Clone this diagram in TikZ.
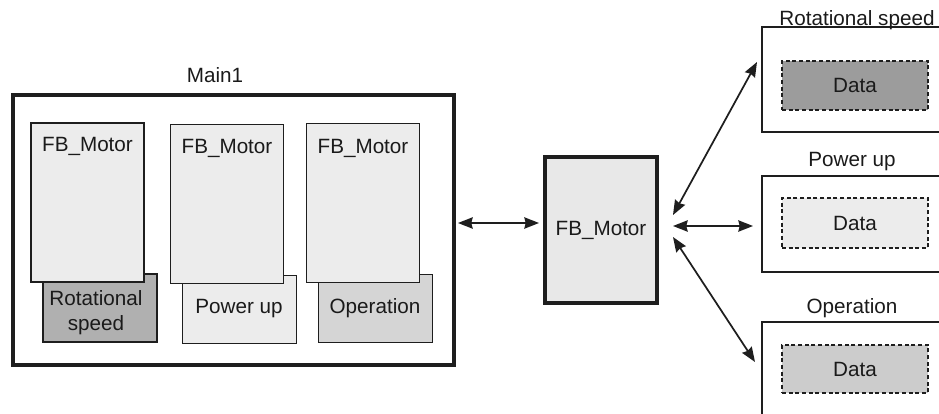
\documentclass[tikz,border=0pt]{standalone}
\usepackage{fontspec}
\setmainfont{Liberation Sans}
\usetikzlibrary{arrows.meta}
\definecolor{txt}{HTML}{1A1A1A}
\definecolor{dark}{HTML}{B0B0B0}
\definecolor{light}{HTML}{ECECEC}
\definecolor{cbox}{HTML}{E8E8E8}
\definecolor{mid}{HTML}{D5D5D5}
\definecolor{ddark}{HTML}{9C9C9C}
\definecolor{dmid}{HTML}{CCCCCC}
\definecolor{lne}{HTML}{1E1E1E}
\begin{document}
\begin{tikzpicture}[x=0.75pt,y=-0.75pt,
  every node/.style={font=\fontsize{15.5}{18.5}\selectfont, text=txt},
  mainbox/.style={draw=lne, line width=3pt, fill=white, minimum width=330.75pt, minimum height=202.5pt, inner sep=0pt},
  fbbox/.style={draw=lne, line width=1.3pt, fill=light, minimum width=84.75pt, minimum height=119.25pt, inner sep=0pt},
  subbox/.style={draw=lne, line width=1.3pt, minimum width=85.5pt, minimum height=51pt, inner sep=0pt, align=center},
  centerbox/.style={draw=lne, line width=2.8pt, fill=cbox, minimum width=84pt, minimum height=109.5pt, inner sep=0pt},
  outbox/.style={draw=lne, line width=1.1pt, fill=white, minimum width=148.5pt, inner sep=0pt},
  databox/.style={draw=lne, line width=1.1pt, dashed, dash pattern=on 3pt off 2pt, minimum width=109.5pt, inner sep=0pt},
  lbl/.style={inner sep=0pt},
  arr/.style={line width=1.3pt, draw=lne, {Stealth[length=11pt,width=8.5pt,inset=1pt]}-{Stealth[length=11pt,width=8.5pt,inset=1pt]}}
]
\clip (0,0) rectangle (939,414);
\useasboundingbox (0,0) rectangle (939,414);

% Main1
\node[mainbox] (main) at (233.5,230) {};
\node[lbl] (mainlbl) at (215,75) {Main1};

% sub boxes (behind)
\node[subbox, fill=dark] (sb1) at (100,308) {};
\node[subbox, fill=light] (sb2) at (239.5,309.5) {};
\node[subbox, fill=mid] (sb3) at (375.5,308.5) {};

% FB boxes
\node[fbbox] (fb1) at (87.5,202.5) {};
\node[fbbox] (fb2) at (227,204) {};
\node[fbbox] (fb3) at (363,203) {};
\node[lbl] (fb1t) at (87.5,146) {FB\_Motor};
\node[lbl] (fb2t) at (227,148) {FB\_Motor};
\node[lbl] (fb3t) at (363,148) {FB\_Motor};

\node[lbl, align=center] (sb1t) at (96,312.5) {Rotational\\[0.5pt]speed};
\node[lbl] (sb2t) at (239,309) {Power up};
\node[lbl] (sb3t) at (375,308) {Operation};

% center
\node[centerbox] (fb) at (601,230) {FB\_Motor};

% right boxes
\node[outbox, minimum height=78.75pt] (o1) at (861,79.5) {};
\node[outbox, minimum height=72pt] (o2) at (861,224) {};
\node[outbox, minimum height=90pt] (o3) at (861,382) {};
\node[lbl] (o1l) at (857,20) {Rotational speed};
\node[lbl] (o2l) at (852,162) {Power up};
\node[lbl] (o3l) at (852,308) {Operation};

\node[databox, fill=ddark, minimum height=36.75pt] (d1) at (855,85.5) {Data};
\node[databox, fill=light, minimum height=37.5pt] (d2) at (855,223) {Data};
\node[databox, fill=dmid, minimum height=36pt] (d3) at (855,369) {Data};

% connectors
\coordinate (a1) at (458,223);
\coordinate (a2) at (539,223);
\draw[arr] (a1) -- (a2);
\coordinate (r0) at (673,226);
\coordinate (r2) at (753,226);
\draw[arr] (r0) -- (r2);
\coordinate (u0) at (673,215);
\coordinate (u1) at (757,62);
\draw[arr] (u0) -- (u1);
\coordinate (d0) at (673,237);
\coordinate (d3e) at (755,362);
\draw[arr] (d0) -- (d3e);
\end{tikzpicture}
\end{document}
